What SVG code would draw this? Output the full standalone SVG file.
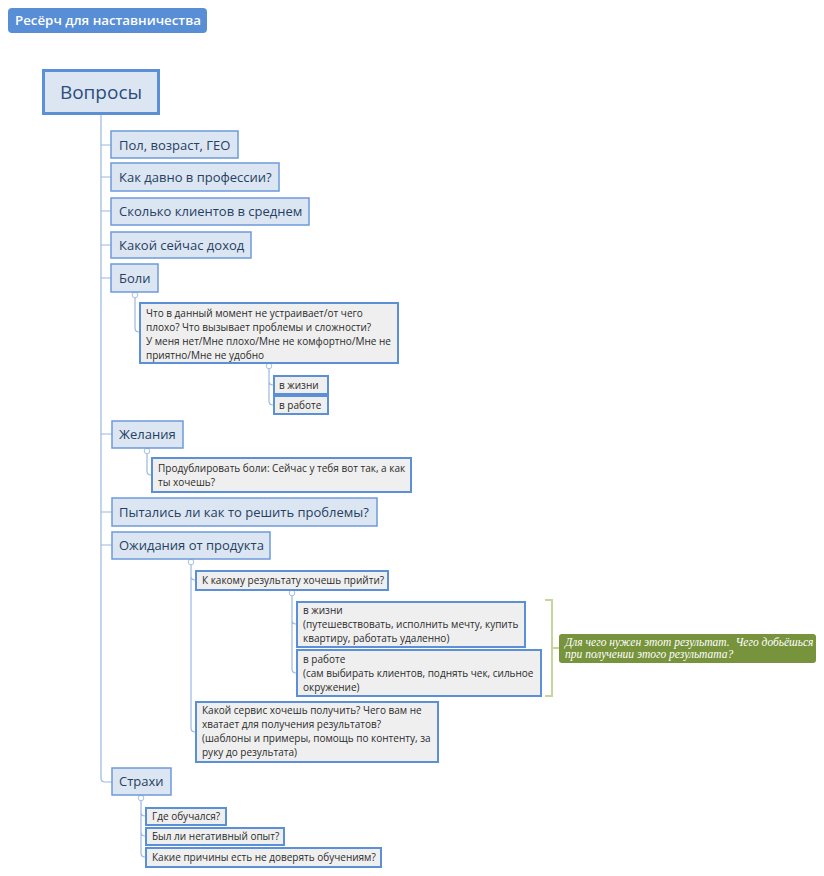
<svg xmlns="http://www.w3.org/2000/svg" width="824" height="876" viewBox="0 0 824 876">
<style>
.conn{fill:none;stroke:#9bb8e0;stroke-width:1.2}
.l1{fill:#dce6f2;stroke:#6d9bdb;stroke-width:1.5}
.l2{fill:#efefef;stroke:#5b8fd6;stroke-width:2}
.t1{font-family:"Open Sans","Noto Sans",sans-serif;font-size:13px;fill:#263f63}
.t2{font-family:"Open Sans","Noto Sans",sans-serif;font-size:10px;fill:#2b2b2b}
.tog{fill:#fff;stroke:#a9c1e3;stroke-width:1}
.note{font-family:"Liberation Serif","DejaVu Serif",serif;font-style:italic;font-size:11.5px;fill:#ffffff;white-space:pre}
</style>
<rect width="824" height="876" fill="#ffffff"/>
<g id="connectors">
<path class="conn" d="M101,114 V778 Q101,782 105,782 H112"/>
<path class="conn" d="M101,145 H111 M101,177 H111 M101,211 H111 M101,245 H111 M101,278 H111 M101,434 H112 M101,512 H112 M101,545 H112"/>
<path class="conn" d="M135,295 V328 Q135,332 139,332 H140"/>
<path class="conn" d="M269,366 V401 Q269,405 273,405 H274 M269,381 Q269,385 273,385 H274"/>
<path class="conn" d="M147,451 V471 Q147,475 151,475 H152"/>
<path class="conn" d="M191,562 V728 Q191,732 195,732 H196 M191,576 Q191,580 195,580 H196"/>
<path class="conn" d="M292,593 V669 Q292,673 296,673 H297 M292,620 Q292,624 296,624 H297"/>
<path class="conn" d="M141,798 V853 Q141,857 145,857 H146 M141,812 Q141,816 145,816 H146 M141,832 Q141,836 145,836 H146"/>
<path fill="none" stroke="#c3d69b" stroke-width="2" d="M545,600 H552 V696 H545 M552,648 H559"/>
<g>
<circle class="tog" cx="135" cy="295" r="2.8"/>
<circle class="tog" cx="269" cy="366" r="2.8"/>
<circle class="tog" cx="147" cy="451" r="2.8"/>
<circle class="tog" cx="191" cy="562" r="2.8"/>
<circle class="tog" cx="292" cy="593" r="2.8"/>
<circle class="tog" cx="141" cy="798" r="2.8"/>
</g>
</g>
<g id="title">
<rect x="8" y="8" width="199" height="25" rx="4" fill="#588ed6"/>
<text x="15" y="25" font-family="'Open Sans','Noto Sans',sans-serif" font-size="13.3" font-weight="600" fill="#ffffff">Ресёрч для наставничества</text>
</g>
<g id="voprosy">
<rect x="43.5" y="70.5" width="115" height="43" fill="#dce6f2" stroke="#5b8fd6" stroke-width="3"/>
<text x="101" y="98.5" text-anchor="middle" font-family="'Open Sans','Noto Sans',sans-serif" font-size="19" fill="#2d4d7e">Вопросы</text>
</g>
<g id="n-pol"><rect class="l1" x="111" y="131" width="127" height="27"/><text class="t1" x="119" y="149.5">Пол, возраст, ГЕО</text></g>
<g id="n-kak-davno"><rect class="l1" x="111" y="163" width="168" height="28"/><text class="t1" x="119" y="182">Как давно в профессии?</text></g>
<g id="n-skolko"><rect class="l1" x="111" y="198" width="198" height="27"/><text class="t1" x="119" y="216">Сколько клиентов в среднем</text></g>
<g id="n-dohod"><rect class="l1" x="111" y="232" width="140" height="26"/><text class="t1" x="119" y="250">Какой сейчас доход</text></g>
<g id="n-boli"><rect class="l1" x="111" y="264" width="47" height="28"/><text class="t1" x="119" y="283">Боли</text></g>
<g id="n-boli-q"><rect class="l2" x="140" y="303" width="258" height="60"/>
<text class="t2" x="146" y="316.5">Что в данный момент не устраивает/от чего</text>
<text class="t2" x="146" y="330.5">плохо? Что вызывает проблемы и сложности?</text>
<text class="t2" x="146" y="344.5">У меня нет/Мне плохо/Мне не комфортно/Мне не</text>
<text class="t2" x="146" y="358.5">приятно/Мне не удобно</text></g>
<g id="n-boli-life"><rect class="l2" x="274" y="376" width="54" height="18"/><text class="t2" x="279" y="388.5">в жизни</text></g>
<g id="n-boli-work"><rect class="l2" x="274" y="396" width="54" height="18"/><text class="t2" x="279" y="408.5">в работе</text></g>
<g id="n-zhelaniya"><rect class="l1" x="112" y="421" width="71" height="27"/><text class="t1" x="119" y="439">Желания</text></g>
<g id="n-zhel-q"><rect class="l2" x="152" y="458" width="259" height="34"/>
<text class="t2" x="158" y="472">Продублировать боли: Сейчас у тебя вот так, а как</text>
<text class="t2" x="158" y="486">ты хочешь?</text></g>
<g id="n-pytalis"><rect class="l1" x="112" y="498" width="265" height="28"/><text class="t1" x="119" y="517">Пытались ли как то решить проблемы?</text></g>
<g id="n-ozhid"><rect class="l1" x="112" y="532" width="158" height="27"/><text class="t1" x="119" y="550">Ожидания от продукта</text></g>
<g id="n-rezultat"><rect class="l2" x="196" y="571" width="192" height="19"/><text class="t2" x="202" y="584">К какому результату хочешь прийти?</text></g>
<g id="n-rez-life"><rect class="l2" x="297" y="602" width="228" height="45"/>
<text class="t2" x="303" y="613.5">в жизни</text>
<text class="t2" x="303" y="627.5">(путешевствовать, исполнить мечту, купить</text>
<text class="t2" x="303" y="641.5">квартиру, работать удаленно)</text></g>
<g id="n-rez-work"><rect class="l2" x="297" y="650" width="244" height="46"/>
<text class="t2" x="303" y="662.5">в работе</text>
<text class="t2" x="303" y="676.5">(сам выбирать клиентов, поднять чек, сильное</text>
<text class="t2" x="303" y="690.5">окружение)</text></g>
<g id="n-note"><rect x="559" y="634" width="257" height="29" rx="3" fill="#77933c"/>
<text class="note" x="565" y="646">Для чего нужен этот результат.  Чего добьёшься</text>
<text class="note" x="565" y="658">при получении этого результата?</text></g>
<g id="n-servis"><rect class="l2" x="196" y="702" width="242" height="60"/>
<text class="t2" x="202" y="713.5">Какой сервис хочешь получить? Чего вам не</text>
<text class="t2" x="202" y="727.5">хватает для получения результатов?</text>
<text class="t2" x="202" y="741.5">(шаблоны и примеры, помощь по контенту, за</text>
<text class="t2" x="202" y="755.5">руку до результата)</text></g>
<g id="n-strahi"><rect class="l1" x="112" y="768" width="59" height="27"/><text class="t1" x="119" y="786">Страхи</text></g>
<g id="n-gde"><rect class="l2" x="146" y="808" width="80" height="17"/><text class="t2" x="152" y="820">Где обучался?</text></g>
<g id="n-negativ"><rect class="l2" x="146" y="828" width="138" height="17"/><text class="t2" x="152" y="840">Был ли негативный опыт?</text></g>
<g id="n-prichiny"><rect class="l2" x="146" y="848" width="235" height="19"/><text class="t2" x="152" y="861">Какие причины есть не доверять обучениям?</text></g>
</svg>
